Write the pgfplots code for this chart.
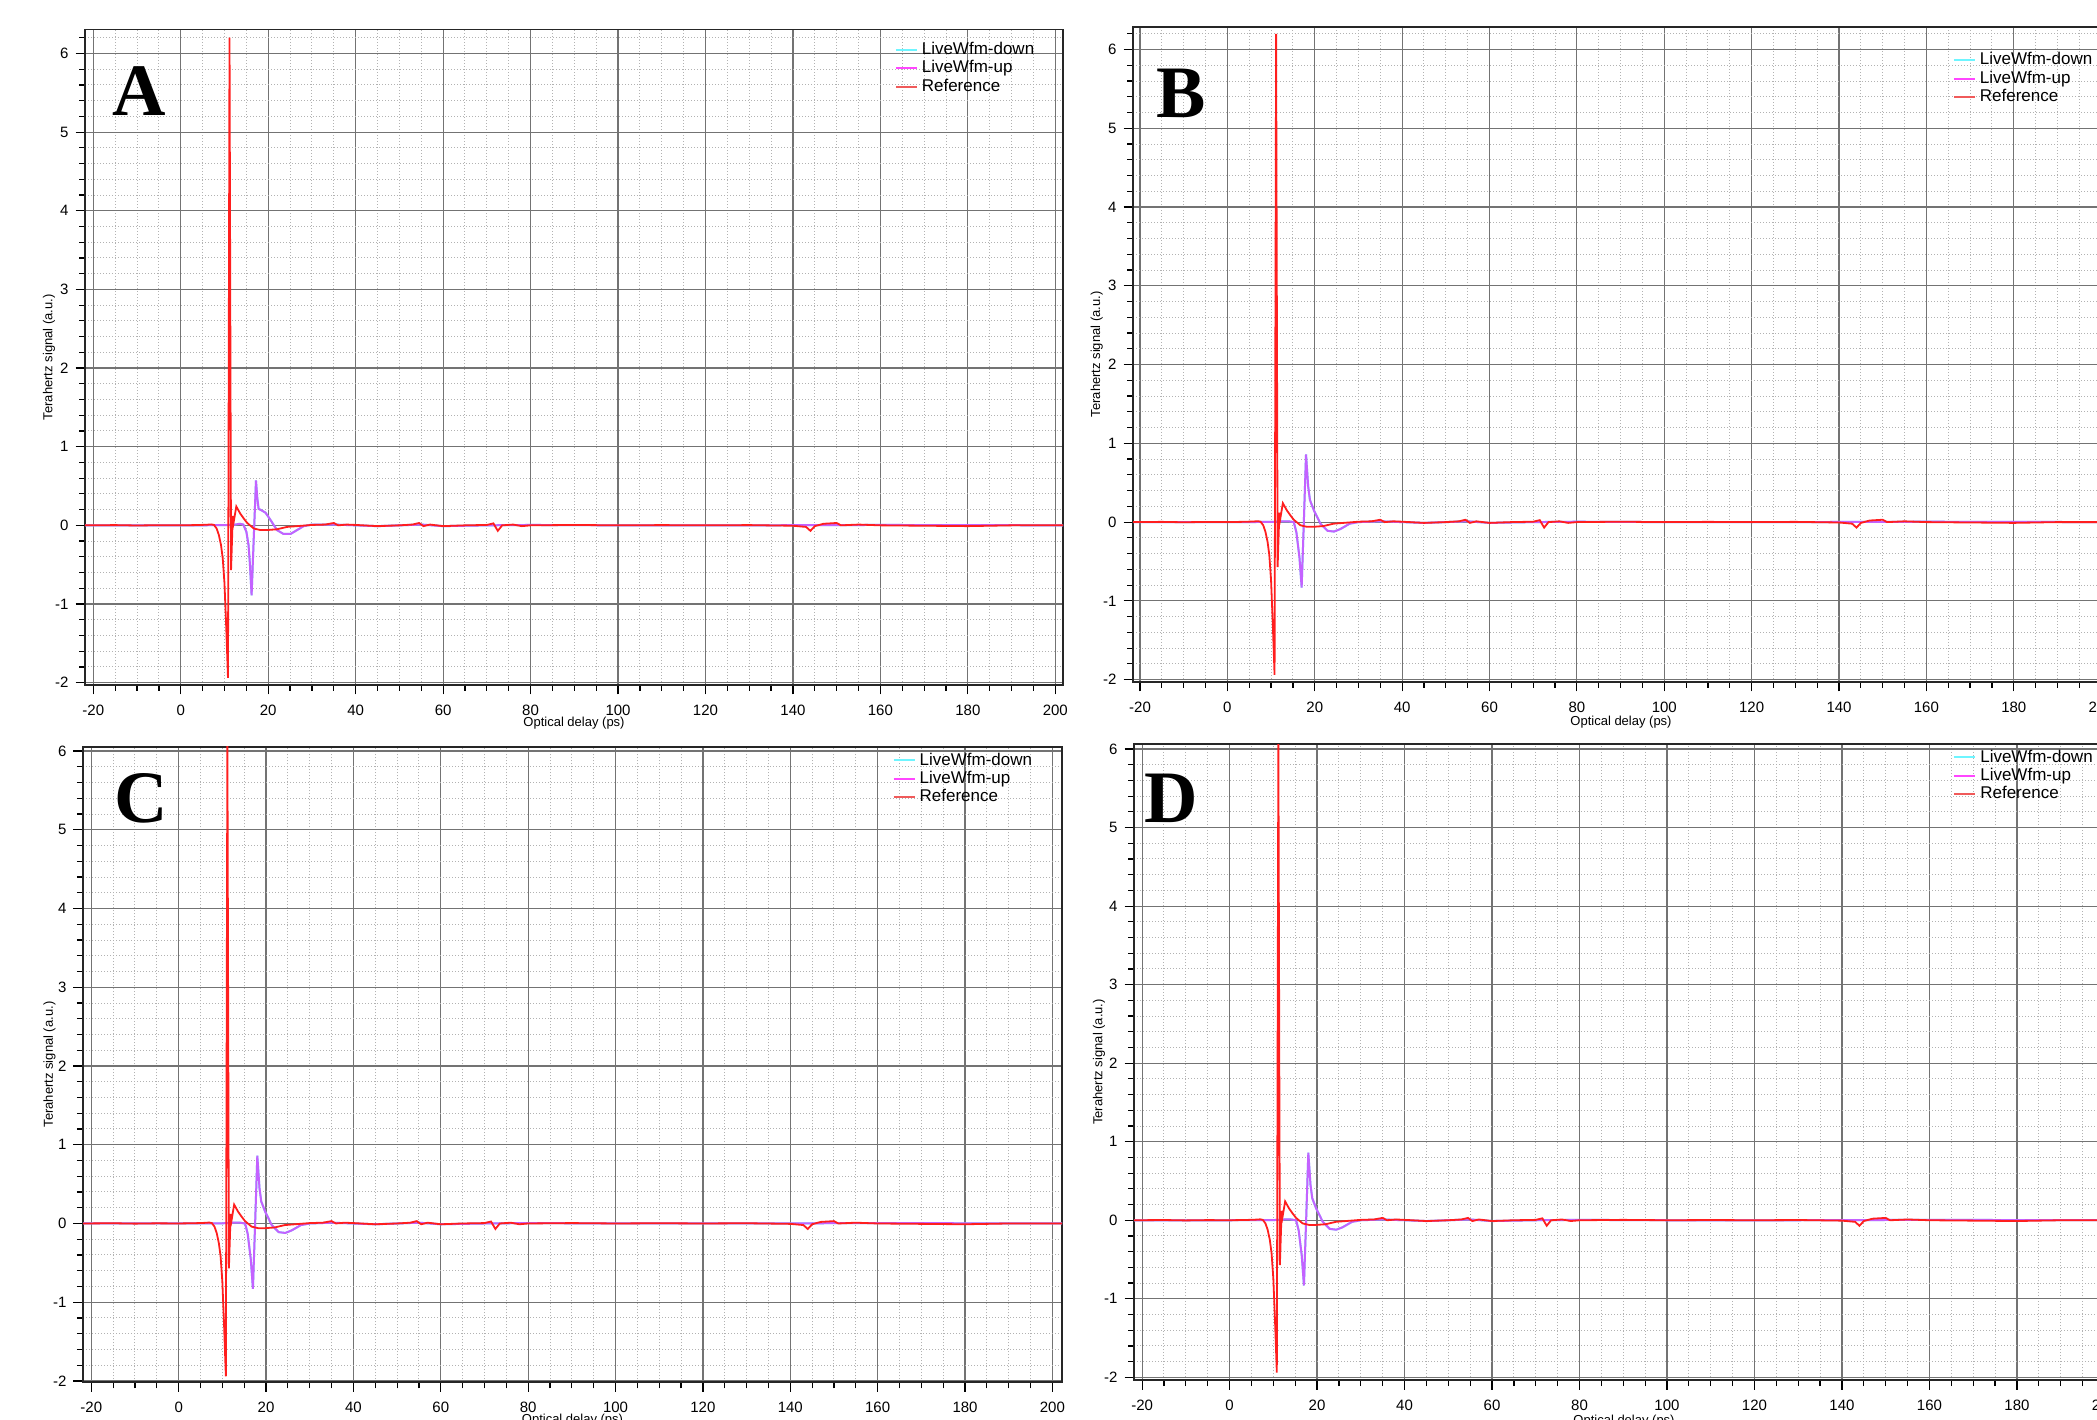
\documentclass[border=0pt]{standalone}
\usepackage{fontspec}
\setmainfont{Liberation Sans}
\newfontfamily\letterfont{Liberation Serif}
\usepackage{pgfplots}
\usepackage{pgfplotstable}
\pgfplotsset{compat=1.18}

\definecolor{downcol}{RGB}{60,235,255}
\definecolor{upcol}{RGB}{255,40,255}
\definecolor{refcol}{RGB}{255,30,30}
\definecolor{legdown}{RGB}{110,245,255}
\definecolor{legup}{RGB}{255,70,255}
\definecolor{legref}{RGB}{240,90,90}

% reference pulse (same in all four panels)
\pgfplotstableread{
x y
-21.9 0
-15 0.003
-10 -0.002
-5 0.002
0 0
4 0.004
6 0.008
7 0.012
7.6 0.005
8.2 -0.04
8.7 -0.12
9.2 -0.25
9.6 -0.42
10.0 -0.74
10.4 -1.3
10.8 -1.94
11.15 6.2
11.5 -0.57
11.9 0.12
12.1 0.04
12.7 0.24
13.6 0.15
14.5 0.08
15.2 0.03
16.7 -0.04
18.2 -0.06
19.7 -0.06
22 -0.05
24.3 -0.02
26.6 -0.01
30 0.005
33 0.01
35 0.03
36 0.0
38 0.01
40 0.005
45 -0.01
50 0.0
53 0.01
54.5 0.03
55.5 -0.01
57 0.01
60 -0.01
65 0.0
70 0.005
71.5 0.025
72.5 -0.07
73.5 0.0
76 0.01
78 -0.01
80 0
90 0.005
100 0
110 0.003
120 0
130 0.003
140 -0.005
143 -0.02
144 -0.07
145 -0.01
147 0.02
150 0.03
151 0.0
155 0.01
160 0
170 -0.005
180 -0.01
190 0.0
202.3 0
}\refdata

% live waveform, panel A
\pgfplotstableread{
x y
-21.9 0
0 0
10 0.002
12.5 0.01
13.5 0.02
14.3 0.01
15.0 -0.08
15.5 -0.25
15.8 -0.48
16.2 -0.89
16.7 -0.15
17.2 0.57
17.5 0.35
17.8 0.21
18.5 0.19
19.4 0.16
20.5 0.07
22.0 -0.06
23.5 -0.11
25.1 -0.11
26.6 -0.06
28.1 -0.01
30 0.01
35 0.01
40 0.0
45 -0.01
55 0.01
60 -0.01
70 0.0
80 0.005
100 0
130 0.0
160 0.005
202.3 0
}\liveA

% live waveform, panels B, C, D
\pgfplotstableread{
x y
-21.9 0
0 0
10 0.002
12.5 0.01
14 0.01
15.2 0.0
15.8 -0.13
16.5 -0.45
17.0 -0.83
17.5 0.0
18.0 0.86
18.5 0.45
18.9 0.28
19.8 0.15
21.3 -0.02
22.9 -0.11
24.4 -0.12
25.8 -0.09
28.0 -0.02
30 0.0
35 0.01
40 0.0
45 -0.01
55 0.01
60 -0.01
70 0.0
80 0.005
100 0
130 0.0
160 0.005
202.3 0
}\liveB

\tikzset{letter/.style={font=\letterfont\bfseries\fontsize{37}{40}\selectfont, inner sep=0pt, anchor=center}}

\pgfplotsset{
  panel/.style={
    scale only axis,
    anchor=south west,
    xtick={-20,0,20,40,60,80,100,120,140,160,180,200},
    xticklabels={-20,0,20,40,60,80,100,120,140,160,180,200},
    minor xtick={-20,-15,...,200},
    ytick={-2,-1,0,1,2,3,4,5,6},
    yticklabels={-2,-1,0,1,2,3,4,5,6},
    minor ytick={-2,-1.8,...,6.21},
    grid=both,
    major grid style={black!55, line width=0.6pt},
    minor grid style={black!30, line width=0.5pt, densely dotted},
    tick align=outside,
    xtick pos=left, ytick pos=left,
    major tick length=4.75pt, minor tick length=3pt,
    every tick/.append style={black, line width=0.6pt},
    axis line style={black!85, line width=0.9pt},
    tick label style={font=\fontsize{7.5}{8}\selectfont},
    xticklabel style={yshift=-1.5pt},
    label style={font=\fontsize{6.5}{7.5}\selectfont},
    xlabel={Optical delay (ps)},
    ylabel={Terahertz signal (a.u.)},
    legend cell align=left,
    legend style={draw=none, fill=none, anchor=north west, inner sep=0pt, outer sep=0pt,
      font=\fontsize{8.5}{9}\selectfont, row sep=1.2pt, column sep=2pt,
      nodes={inner sep=0pt, text height=6.3pt, text depth=1.7pt}},
    legend image code/.code={\draw[##1, line width=1pt] (0pt,0pt) -- (10.5pt,0pt);},
  },
  down/.style={downcol, line width=1pt, forget plot},
  up/.style={upcol, opacity=0.7, line width=1pt, forget plot},
  ref/.style={refcol, line width=0.9pt, forget plot},
}

\begin{document}
\begin{tikzpicture}
\useasboundingbox (0,0) rectangle (1048.5pt,709.5pt);
\clip (0,0) rectangle (1048.5pt,709.5pt);

% A
\begin{axis}[panel, at={(42.5pt,367pt)}, width=489pt, height=327.75pt,
  xmin=-21.9, xmax=201.76, ymin=-2.03, ymax=6.305,
  x label style={at={(axis description cs:0.5,-0.058)}, anchor=center},
  y label style={at={(axis description cs:-0.0368,0.5)}, anchor=center},
  legend style={at={(axis description cs:0.828,0.981)}}]
\addlegendimage{legdown}\addlegendentry{LiveWfm-down}
\addlegendimage{legup}\addlegendentry{LiveWfm-up}
\addlegendimage{legref}\addlegendentry{Reference}
\addplot[down] table {\liveA};
\addplot[up] table {\liveA};
\addplot[ref] table {\refdata};
\node[letter] at (axis description cs:0.0557,0.906) {A};
\end{axis}

% B
\begin{axis}[panel, at={(566.5pt,368.5pt)}, width=488pt, height=327.65pt,
  xmin=-21.6, xmax=201.8, ymin=-2.03, ymax=6.29,
  x label style={at={(axis description cs:0.5,-0.061)}, anchor=center},
  y label style={at={(axis description cs:-0.0372,0.5)}, anchor=center},
  legend style={at={(axis description cs:0.840,0.961)}}]
\addlegendimage{legdown}\addlegendentry{LiveWfm-down}
\addlegendimage{legup}\addlegendentry{LiveWfm-up}
\addlegendimage{legref}\addlegendentry{Reference}
\addplot[down] table {\liveB};
\addplot[up] table {\liveB};
\addplot[ref] table {\refdata};
\node[letter] at (axis description cs:0.0492,0.898) {B};
\end{axis}

% C
\begin{axis}[panel, at={(41.5pt,18.35pt)}, width=489.5pt, height=317.8pt,
  xmin=-21.9, xmax=202.2, ymin=-2.017, ymax=6.055,
  x label style={at={(axis description cs:0.5,-0.06)}, anchor=center},
  y label style={at={(axis description cs:-0.0342,0.5)}, anchor=center},
  legend style={at={(axis description cs:0.827,0.991)}}]
\addlegendimage{legdown}\addlegendentry{LiveWfm-down}
\addlegendimage{legup}\addlegendentry{LiveWfm-up}
\addlegendimage{legref}\addlegendentry{Reference}
\addplot[down] table {\liveB};
\addplot[up] table {\liveB};
\addplot[ref] table {\refdata};
\node[letter] at (axis description cs:0.0592,0.919) {C};
\end{axis}

% D
\begin{axis}[panel, at={(567pt,19.5pt)}, width=490pt, height=318pt,
  xmin=-21.85, xmax=202.2, ymin=-2.034, ymax=6.064,
  x label style={at={(axis description cs:0.5,-0.064)}, anchor=center},
  y label style={at={(axis description cs:-0.0357,0.5)}, anchor=center},
  legend style={at={(axis description cs:0.836,0.9915)}}]
\addlegendimage{legdown}\addlegendentry{LiveWfm-down}
\addlegendimage{legup}\addlegendentry{LiveWfm-up}
\addlegendimage{legref}\addlegendentry{Reference}
\addplot[down] table {\liveB};
\addplot[up] table {\liveB};
\addplot[ref] table {\refdata};
\node[letter] at (axis description cs:0.0382,0.915) {D};
\end{axis}
\end{tikzpicture}
\end{document}
